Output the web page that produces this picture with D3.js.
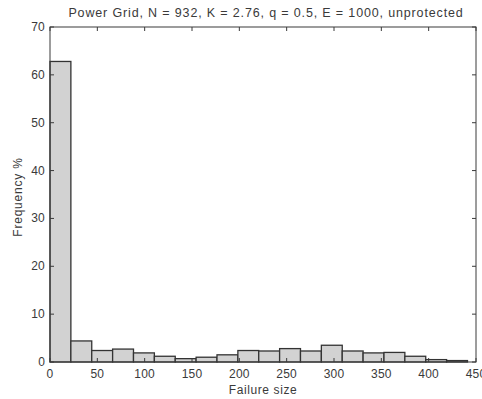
<!DOCTYPE html>
<html><head><meta charset="utf-8">
<script src="https://cdn.jsdelivr.net/npm/d3@7"></script>
<style>body{margin:0;background:#fff}svg{display:block}</style>
</head><body>
<script>
const title = "Power Grid, N = 932, K = 2.76, q = 0.5, E = 1000, unprotected";
const xLabel = "Failure size";
const yLabel = "Frequency %";
const binWidth = 22.05;
const frequencies = [62.8, 4.4, 2.4, 2.7, 1.9, 1.2, 0.7, 1.0, 1.5, 2.4, 2.3, 2.8, 2.3, 3.5, 2.3, 1.9, 2.0, 1.2, 0.5, 0.3];
const xTicks = [0, 50, 100, 150, 200, 250, 300, 350, 400, 450];
const yTicks = [0, 10, 20, 30, 40, 50, 60, 70];

const W = 482, H = 399;
const m = {left: 50, right: 6, top: 27, bottom: 37};
const svg = d3.select("body").append("svg").attr("width", W).attr("height", H);
const x = d3.scaleLinear().domain([0, 450]).range([m.left, W - m.right]);
const y = d3.scaleLinear().domain([0, 70]).range([H - m.bottom, m.top]);
const font = "Liberation Sans, Arial, sans-serif";
const axisCol = "#3a3a3a";

svg.append("g").selectAll("rect").data(frequencies).join("rect")
  .attr("x", (d, i) => x(i * binWidth))
  .attr("width", (d, i) => x((i + 1) * binWidth) - x(i * binWidth))
  .attr("y", d => y(d))
  .attr("height", d => y(0) - y(d))
  .attr("fill", "#d2d2d2").attr("stroke", "#333").attr("stroke-width", 1.3);

const tl = 4;
const g = svg.append("g").attr("stroke", axisCol).attr("stroke-width", 1);
xTicks.forEach(t => {
  g.append("line").attr("x1", x(t)).attr("x2", x(t)).attr("y1", y(0)).attr("y2", y(0) - tl);
  g.append("line").attr("x1", x(t)).attr("x2", x(t)).attr("y1", y(70)).attr("y2", y(70) + tl);
});
yTicks.forEach(t => {
  g.append("line").attr("x1", x(0)).attr("x2", x(0) + tl).attr("y1", y(t)).attr("y2", y(t));
  g.append("line").attr("x1", x(450)).attr("x2", x(450) - tl).attr("y1", y(t)).attr("y2", y(t));
});
svg.append("rect").attr("x", x(0)).attr("y", y(70)).attr("width", x(450) - x(0)).attr("height", y(0) - y(70))
  .attr("fill", "none").attr("stroke", axisCol).attr("stroke-width", 1);

const tc = "#3a3a3a";
svg.append("g").selectAll("text").data(xTicks).join("text")
  .attr("x", d => x(d)).attr("y", y(0) + 16).attr("text-anchor", "middle")
  .attr("font-family", font).attr("font-size", 12).attr("letter-spacing", 0.2).attr("fill", tc).text(d => d);
svg.append("g").selectAll("text").data(yTicks).join("text")
  .attr("x", x(0) - 5).attr("y", d => y(d) + 4).attr("text-anchor", "end")
  .attr("font-family", font).attr("font-size", 12).attr("letter-spacing", 0.2).attr("fill", tc).text(d => d);

svg.append("text").attr("x", 266).attr("y", 17).attr("text-anchor", "middle")
  .attr("font-family", font).attr("font-size", 12.5).attr("letter-spacing", 0.85).attr("fill", tc).text(title);
svg.append("text").attr("x", 263).attr("y", 394).attr("text-anchor", "middle")
  .attr("font-family", font).attr("font-size", 12).attr("letter-spacing", 0.6).attr("fill", tc).text(xLabel);
svg.append("text").attr("transform", `translate(22,197) rotate(-90)`).attr("text-anchor", "middle")
  .attr("font-family", font).attr("font-size", 12).attr("letter-spacing", 0.8).attr("fill", tc).text(yLabel);
</script>
</body></html>
